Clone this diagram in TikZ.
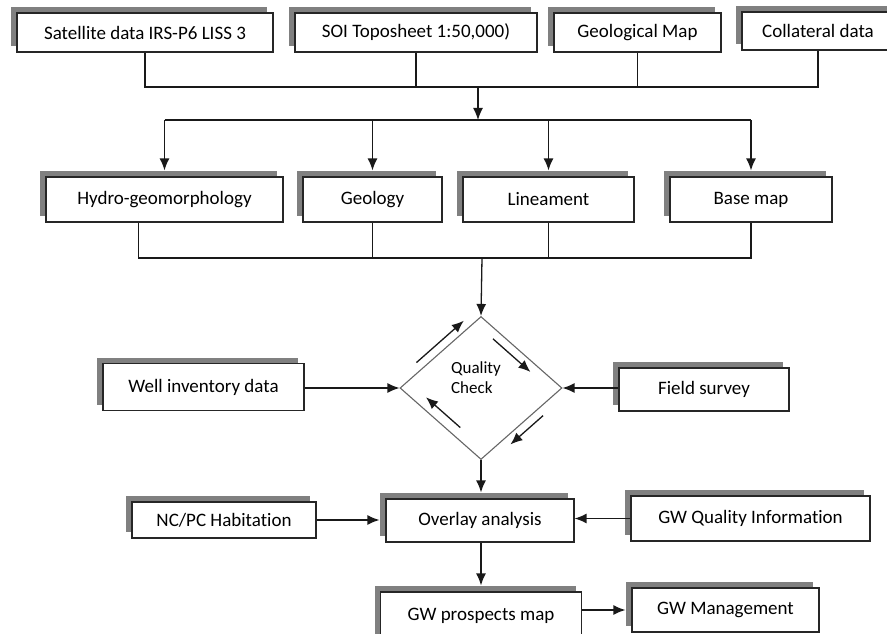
\documentclass[tikz,border=0pt]{standalone}
\usepackage{fontspec}
\setmainfont{Carlito}[Ligatures=NoCommon]
\usetikzlibrary{shapes.geometric, arrows.meta, shadows, calc}
\tikzstyle{databox} = [rectangle, draw=black!85, line width=1.2pt, fill=white, text centered, inner sep=0pt, drop shadow={shadow xshift=-6pt, shadow yshift=6pt, opacity=1, fill=black!50}]
\tikzstyle{decision} = [diamond, draw=black!60, line width=1.1pt, inner sep=0pt, minimum width=162pt, minimum height=143pt]
\tikzstyle{link} = [line width=1.3pt, draw=black!90]
\tikzstyle{arrow} = [link, -{Latex[length=12pt,width=10pt]}]

\begin{document}
\begin{tikzpicture}[x=1pt, y=-1pt, font=\fontsize{19pt}{23pt}\selectfont]
\useasboundingbox (0,0) rectangle (887,634);
\clip (0,0) rectangle (887,634);
% input data
\node [databox, minimum width=256pt, minimum height=39pt] at (145,32.5) (sat_data) {Satellite data IRS-P6 LISS 3};
\node [databox, minimum width=242pt, minimum height=39pt] at (416,32.5) (soi_sheet) {SOI Toposheet 1:50,000)};
\node [databox, minimum width=167pt, minimum height=39pt] at (637.5,32.5) (geo_map) {Geological Map};
\node [databox, minimum width=152pt, minimum height=38pt] at (818,31) (collateral) {Collateral data};
% thematic layers
\node [databox, minimum width=237pt, minimum height=45pt] at (164.5,199.5) (hydro_geo) {Hydro-geomorphology};
\node [databox, minimum width=139pt, minimum height=45pt] at (372.5,199.5) (geology) {Geology};
\node [databox, minimum width=171pt, minimum height=45pt] at (548.5,199.5) (lineament) {Lineament};
\node [databox, minimum width=162pt, minimum height=45pt] at (751,199.5) (base_map) {Base map};
% quality check
\node [decision, label={[align=left, font=\fontsize{17pt}{20pt}\selectfont, xshift=-5pt, yshift=10pt]center:Quality\\Check}] at (481,388) (quality_check) {};
\node [databox, minimum width=201pt, minimum height=47pt] at (203.5,387) (well_data) {Well inventory data};
\node [databox, minimum width=170pt, minimum height=43pt] at (704,389.5) (field_survey) {Field survey};
% analysis
\node [databox, minimum width=188pt, minimum height=43pt] at (480,520.5) (overlay) {Overlay analysis};
\node [databox, minimum width=184pt, minimum height=36pt] at (224,520) (nc_pc) {NC/PC Habitation};
\node [databox, minimum width=239pt, minimum height=45pt] at (750.5,518.5) (gw_quality) {GW Quality Information};
\node [databox, minimum width=201pt, minimum height=48pt] at (481,616) (gw_prospects) {GW prospects map};
\node [databox, minimum width=187pt, minimum height=44pt] at (725.5,610) (gw_management) {GW Management};
% junctions
\coordinate (merge_top) at (478,87);
\coordinate (split_top) at (478,120);
\coordinate (merge_mid) at (482,258);
\draw [link] (sat_data.south) |- (collateral.south |- merge_top) -- (collateral.south);
\draw [link] (soi_sheet.south) -- (soi_sheet.south |- merge_top);
\draw [link] (geo_map.south) -- (geo_map.south |- merge_top);
\draw [arrow] (merge_top) -- (split_top);
\draw [link] (hydro_geo.north |- split_top) -- (base_map.north |- split_top);
\draw [arrow] (hydro_geo.north |- split_top) -- ([yshift=6pt]hydro_geo.north);
\draw [arrow] (geology.north |- split_top) -- ([yshift=6pt]geology.north);
\draw [arrow] (lineament.north |- split_top) -- ([yshift=6pt]lineament.north);
\draw [arrow] (base_map.north |- split_top) -- ([yshift=6pt]base_map.north);
\draw [link] ([xshift=-26pt]hydro_geo.south) |- (base_map.south |- merge_mid) -- (base_map.south);
\draw [link] (geology.south) -- (geology.south |- merge_mid);
\draw [link] (lineament.south) -- (lineament.south |- merge_mid);
\draw [arrow] (merge_mid) -- (quality_check.north);
\draw [arrow] (well_data.east |- quality_check.west) -- (quality_check.west);
\draw [arrow] (field_survey.west |- quality_check.east) -- (quality_check.east);
% flow round the diamond
\draw [arrow] ($(quality_check.west)!0.27!(quality_check.north)+(-5,-6)$) -- ($(quality_check.west)!0.85!(quality_check.north)+(-5,-6)$);
\draw [arrow] ($(quality_check.north)!0.22!(quality_check.east)+(-6,7)$) -- ($(quality_check.north)!0.68!(quality_check.east)+(-6,7)$);
\draw [arrow] ($(quality_check.south)!0.34!(quality_check.west)+(7,-8)$) -- ($(quality_check.south)!0.76!(quality_check.west)+(7,-8)$);
\draw [arrow] ($(quality_check.east)!0.30!(quality_check.south)+(5,6)$) -- ($(quality_check.east)!0.70!(quality_check.south)+(5,6)$);
\draw [arrow] (quality_check.south) -- ([yshift=6pt]quality_check.south |- overlay.north);
\draw [arrow] (nc_pc.east) -- ([xshift=-6pt]overlay.west |- nc_pc.east);
\draw [arrow] (gw_quality.west) -- (overlay.east |- gw_quality.west);
\draw [arrow] (overlay.south -| gw_prospects.north) -- ([yshift=6pt]gw_prospects.north);
\draw [arrow] (gw_prospects.east |- gw_management) -- ([xshift=-6pt]gw_management.west);
\end{tikzpicture}
\end{document}
